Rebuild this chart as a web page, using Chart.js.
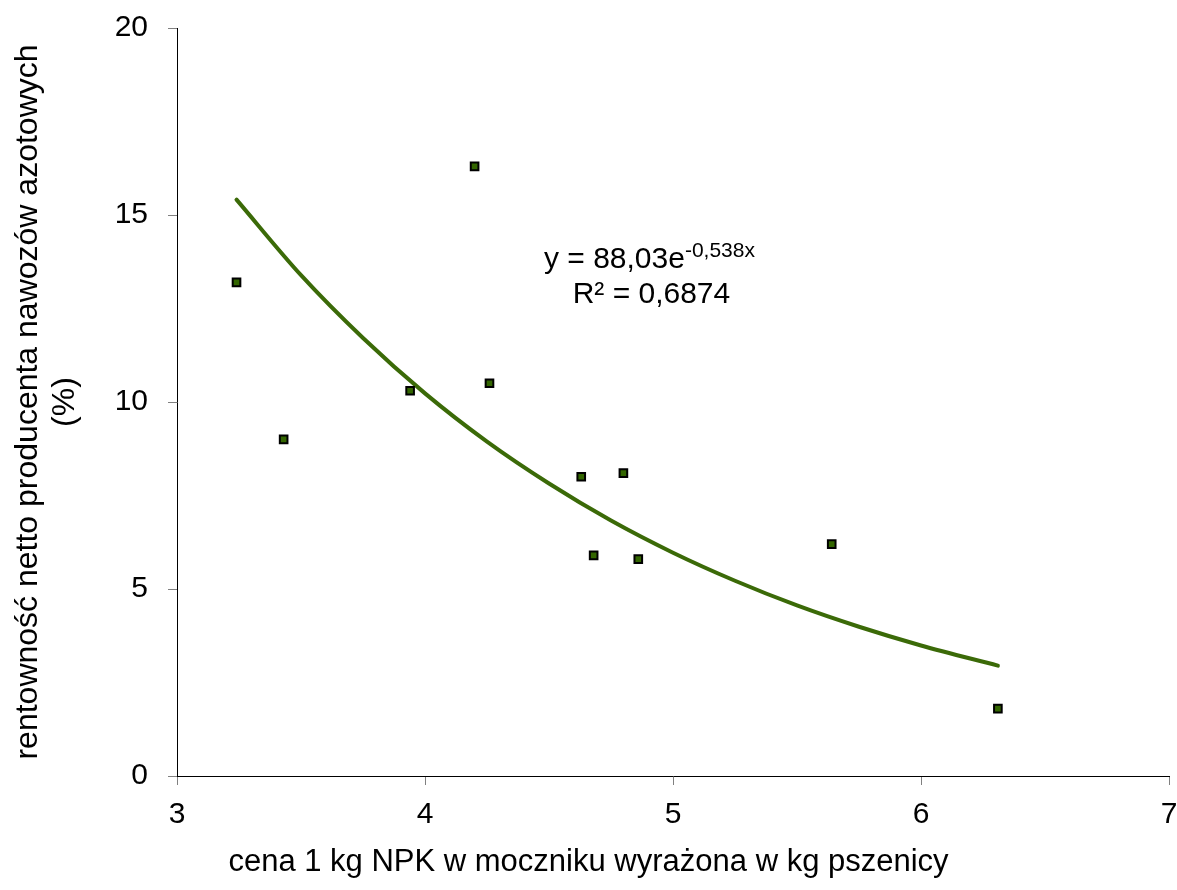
<!DOCTYPE html>
<html lang="pl">
<head>
<meta charset="UTF-8">
<title>Rentowność netto</title>
<script src="https://cdn.jsdelivr.net/npm/chart.js@4.4.0/dist/chart.umd.min.js"></script>
<style>
  body { margin: 0; background: #fff; }
  #wrap { width: 1177px; height: 890px; }
</style>
</head>
<body>
<div id="wrap"><canvas id="myChart"></canvas></div>
<script>
// punkty obserwacji
var priceX = [3.24, 3.43, 3.94, 4.20, 4.26, 4.63, 4.80, 4.68, 4.86, 5.64, 6.31];
var profitY = [13.2, 9.0, 10.3, 16.3, 10.5, 8.0, 8.1, 5.9, 5.8, 6.2, 1.8];

// linia trendu (wykładnicza)
var trendX = [3.24, 3.5, 3.75, 4.0, 4.25, 4.5, 4.75, 5.0, 5.25, 5.5, 5.75, 6.0, 6.31];
var trendY = [15.41, 13.39, 11.71, 10.23, 8.94, 7.82, 6.83, 5.97, 5.22, 4.56, 3.99, 3.49, 2.95];

var xTitle = 'cena 1 kg NPK w moczniku wyrażona w kg pszenicy';
var yTitle = ['rentowność netto producenta nawozów azotowych', '(%)'];
var eqMain = 'y = 88,03e';
var eqSup = '-0,538x';
var eqR2 = 'R² = 0,6874';

var FONT = "'Liberation Sans', Arial, sans-serif";

function pts(xs, ys) {
    return xs.map(function (x, i) { return { x: x, y: ys[i] }; });
}

var textPlugin = {
    id: 'texts',
    afterDraw: function (chart) {
        var ctx = chart.ctx;
        var sx = chart.scales.x, sy = chart.scales.y;
        ctx.save();
        ctx.fillStyle = '#000';

        // tytuł osi X, wyśrodkowany na całym obrazku
        ctx.font = '31px ' + FONT;
        ctx.textAlign = 'center';
        ctx.textBaseline = 'middle';
        ctx.fillText(xTitle, chart.width / 2, 862);

        // równanie trendu
        var cx = sx.getPixelForValue(4.905);
        var base1 = sy.getPixelForValue(13.59);
        var base2 = sy.getPixelForValue(12.65);
        ctx.textBaseline = 'alphabetic';
        ctx.textAlign = 'left';
        ctx.font = '30px ' + FONT;
        var w1 = ctx.measureText(eqMain).width;
        ctx.font = '21px ' + FONT;
        var w2 = ctx.measureText(eqSup).width;
        var left = cx - (w1 + w2) / 2;
        ctx.font = '30px ' + FONT;
        ctx.fillText(eqMain, left, base1);
        ctx.font = '21px ' + FONT;
        ctx.fillText(eqSup, left + w1, base1 - 11);
        ctx.font = '30px ' + FONT;
        ctx.textAlign = 'center';
        ctx.fillText(eqR2, cx + 2, base2);
        ctx.restore();
    }
};

var ctx = document.getElementById('myChart').getContext('2d');
var chart = new Chart(ctx, {
    type: 'scatter',
    data: {
        datasets: [{
            label: 'dane',
            data: pts(priceX, profitY),
            pointStyle: 'rect',
            pointRadius: 5.4,
            pointBorderWidth: 2,
            pointBackgroundColor: '#336600',
            pointBorderColor: '#000000',
            showLine: false,
            order: 0
        }, {
            label: 'trend',
            data: pts(trendX, trendY),
            showLine: true,
            pointRadius: 0,
            borderColor: '#3b6a08',
            borderWidth: 4,
            borderCapStyle: 'round',
            cubicInterpolationMode: 'monotone',
            fill: false,
            order: 1
        }]
    },
    options: {
        responsive: true,
        maintainAspectRatio: false,
        animation: false,
        layout: { padding: { left: 0, right: 8, top: 28, bottom: 0 } },
        plugins: {
            legend: { display: false },
            tooltip: { enabled: false }
        },
        scales: {
            x: {
                type: 'linear',
                min: 3,
                max: 7,
                ticks: {
                    stepSize: 1,
                    color: '#000',
                    padding: 12,
                    font: { family: FONT, size: 30 }
                },
                grid: {
                    drawOnChartArea: false,
                    drawTicks: true,
                    tickLength: 9,
                    color: '#808080',
                    lineWidth: 1
                },
                border: { display: true, color: '#000', width: 1 },
                afterFit: function (scale) {
                    scale.height = 114;
                    scale.paddingLeft = 0;
                    scale.paddingRight = 0;
                }
            },
            y: {
                type: 'linear',
                min: 0,
                max: 20,
                ticks: {
                    stepSize: 5,
                    color: '#000',
                    padding: 20,
                    font: { family: FONT, size: 30 }
                },
                grid: {
                    drawOnChartArea: false,
                    drawTicks: true,
                    tickLength: 9,
                    color: '#808080',
                    lineWidth: 1
                },
                border: { display: true, color: '#000', width: 1 },
                title: {
                    display: true,
                    text: yTitle,
                    color: '#000',
                    font: { family: FONT, size: 32, lineHeight: 1.18 },
                    padding: { top: 9, bottom: 0 }
                },
                afterFit: function (scale) {
                    scale.width = 177;
                    scale.paddingTop = 0;
                    scale.paddingBottom = 0;
                }
            }
        }
    },
    plugins: [textPlugin]
});
</script>
</body>
</html>
